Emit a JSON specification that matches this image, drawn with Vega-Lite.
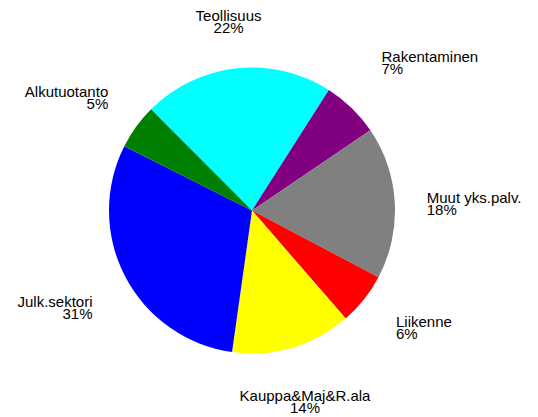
{
  "$schema": "https://vega.github.io/schema/vega-lite/v6.json",
  "autosize": "none",
  "width": 504,
  "height": 417,
  "padding": {"left": 0, "top": 2, "right": 34, "bottom": 0},
  "background": "white",
  "config": {"view": {"stroke": null}, "text": {"font": "Liberation Sans", "fontSize": 15, "lineHeight": 12, "color": "black", "lineBreak": "\n"}},
  "data": {"values": [
    {"idx": 1, "sector": "Teollisuus", "share": 21.5, "label": "22%"},
    {"idx": 2, "sector": "Rakentaminen", "share": 6.5, "label": "7%"},
    {"idx": 3, "sector": "Muut yks.palv.", "share": 17.2, "label": "18%"},
    {"idx": 4, "sector": "Liikenne", "share": 5.9, "label": "6%"},
    {"idx": 5, "sector": "Kauppa&Maj&R.ala", "share": 13.6, "label": "14%"},
    {"idx": 6, "sector": "Julk.sektori", "share": 30.2, "label": "31%"},
    {"idx": 7, "sector": "Alkutuotanto", "share": 5.1, "label": "5%"}
  ]},
  "transform": [
    {"stack": "share", "groupby": [], "sort": [{"field": "idx", "order": "ascending"}], "as": ["s0", "s1"]},
    {"calculate": "(datum.s0 + datum.s1) / 2", "as": "mid"},
    {"calculate": "datum.sector + '\\n' + datum.label", "as": "txt"}
  ],
  "layer": [
    {
      "mark": {"type": "arc", "outerRadius": 143},
      "encoding": {
        "theta": {"field": "s0", "type": "quantitative", "scale": {"domain": [0, 100], "range": [-0.78365, 5.49954]}},
        "theta2": {"field": "s1"},
        "color": {"field": "sector", "type": "nominal", "legend": null,
          "scale": {"domain": ["Teollisuus", "Rakentaminen", "Muut yks.palv.", "Liikenne", "Kauppa&Maj&R.ala", "Julk.sektori", "Alkutuotanto"],
                    "range": ["#00FFFF", "#800080", "#808080", "#FF0000", "#FFFF00", "#0000FF", "#008000"]}}
      }
    },
    {
      "transform": [{"filter": "datum.sector === 'Teollisuus'"}],
      "mark": {"type": "text", "radius": 180, "align": "center", "baseline": "bottom", "dx": -4, "dy": -8},
      "encoding": {"theta": {"field": "mid", "type": "quantitative", "scale": {"domain": [0, 100], "range": [-0.78365, 5.49954]}}, "text": {"field": "txt"}}
    },
    {
      "transform": [{"filter": "datum.sector === 'Rakentaminen'"}],
      "mark": {"type": "text", "radius": 180, "align": "left", "baseline": "bottom", "dx": 4, "dy": -16},
      "encoding": {"theta": {"field": "mid", "type": "quantitative", "scale": {"domain": [0, 100], "range": [-0.78365, 5.49954]}}, "text": {"field": "txt"}}
    },
    {
      "transform": [{"filter": "datum.sector === 'Muut yks.palv.'"}],
      "mark": {"type": "text", "radius": 180, "align": "left", "baseline": "middle", "dx": -5, "dy": -3},
      "encoding": {"theta": {"field": "mid", "type": "quantitative", "scale": {"domain": [0, 100], "range": [-0.78365, 5.49954]}}, "text": {"field": "txt"}}
    },
    {
      "transform": [{"filter": "datum.sector === 'Liikenne'"}],
      "mark": {"type": "text", "radius": 180, "align": "left", "baseline": "top", "dx": 3, "dy": -7},
      "encoding": {"theta": {"field": "mid", "type": "quantitative", "scale": {"domain": [0, 100], "range": [-0.78365, 5.49954]}}, "text": {"field": "txt"}}
    },
    {
      "transform": [{"filter": "datum.sector === 'Kauppa&Maj&R.ala'"}],
      "mark": {"type": "text", "radius": 180, "align": "center", "baseline": "top", "dx": 2, "dy": 6},
      "encoding": {"theta": {"field": "mid", "type": "quantitative", "scale": {"domain": [0, 100], "range": [-0.78365, 5.49954]}}, "text": {"field": "txt"}}
    },
    {
      "transform": [{"filter": "datum.sector === 'Julk.sektori'"}],
      "mark": {"type": "text", "radius": 180, "align": "right", "baseline": "top", "dy": 1},
      "encoding": {"theta": {"field": "mid", "type": "quantitative", "scale": {"domain": [0, 100], "range": [-0.78365, 5.49954]}}, "text": {"field": "txt"}}
    },
    {
      "transform": [{"filter": "datum.sector === 'Alkutuotanto'"}],
      "mark": {"type": "text", "radius": 180, "align": "right", "baseline": "bottom", "dx": 2, "dy": -5},
      "encoding": {"theta": {"field": "mid", "type": "quantitative", "scale": {"domain": [0, 100], "range": [-0.78365, 5.49954]}}, "text": {"field": "txt"}}
    }
  ]
}
